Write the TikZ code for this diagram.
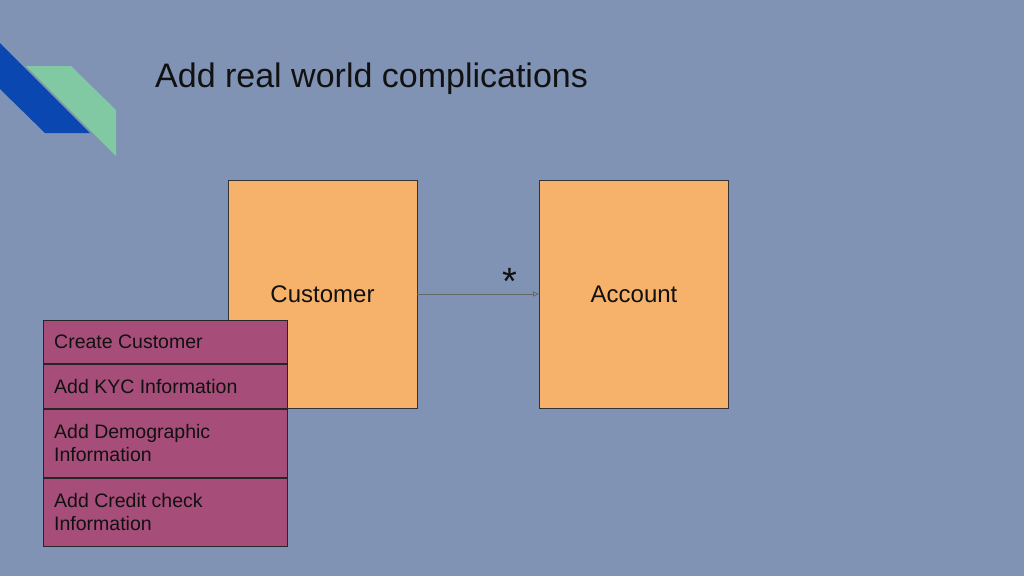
\documentclass[tikz,border=0pt]{standalone}
\usepackage{fontspec}
\setmainfont{Liberation Sans}
\usetikzlibrary{arrows.meta}
\definecolor{bg}{HTML}{8093B5}
\definecolor{dblue}{HTML}{0B47B0}
\definecolor{lgreen}{HTML}{80C9A2}
\definecolor{orng}{HTML}{F6B26B}
\definecolor{purp}{HTML}{A64D79}
\definecolor{txt}{HTML}{111111}
\tikzset{
  entity/.style={draw=black!80, line width=0.8pt, fill=orng, minimum width=189pt, minimum height=228pt, inner sep=0pt, font=\fontsize{24}{28}\selectfont, text=txt},
  row/.style={draw=black!85, line width=0.9pt, fill=purp, minimum width=244pt, inner sep=0pt},
  rowtext/.style={anchor=west, align=left, inner sep=0pt, font=\fontsize{19.5}{23}\selectfont, text=txt},
  conn/.style={draw=black!60, line width=0.7pt, -{Triangle[open, length=6pt, width=5pt]}}
}
\begin{document}
\begin{tikzpicture}[x=1pt,y=-1pt]
\fill[bg] (0,0) rectangle (1024,576);
\useasboundingbox (0,0) rectangle (1024,576);
% decoration
\fill[lgreen] (26,66) -- (71,66) -- (116,110) -- (116,156) -- cycle;
\fill[dblue] (0,43) -- (90,133) -- (45,133) -- (0,89) -- cycle;
% title
\node[anchor=base west, inner sep=0pt, font=\fontsize{34}{40}\selectfont, text=txt] (title) at (155,87) {Add real world complications};
% entities
\node[entity] (cust) at (322.5,294) {Customer};
\node[entity] (acct) at (634,294) {Account};
\draw[conn] (cust.east) -- (acct.west) node[pos=0.76, above=-4pt, font=\fontsize{38}{38}\selectfont, text=txt] (star) {*};
% list
\node[row, anchor=north west, minimum height=43pt] (r1) at (43,320) {};
\node[row, anchor=north west, minimum height=44pt] (r2) at (r1.south west) {};
\node[row, anchor=north west, minimum height=68pt] (r3) at (r2.south west) {};
\node[row, anchor=north west, minimum height=68pt] (r4) at (r3.south west) {};
\node[rowtext] (t1) at ([xshift=11pt]r1.west) {Create Customer};
\node[rowtext] (t2) at ([xshift=11pt]r2.west) {Add KYC Information};
\node[rowtext] (t3) at ([xshift=11pt]r3.west) {Add Demographic\\Information};
\node[rowtext] (t4) at ([xshift=11pt]r4.west) {Add Credit check\\Information};
\end{tikzpicture}
\end{document}
